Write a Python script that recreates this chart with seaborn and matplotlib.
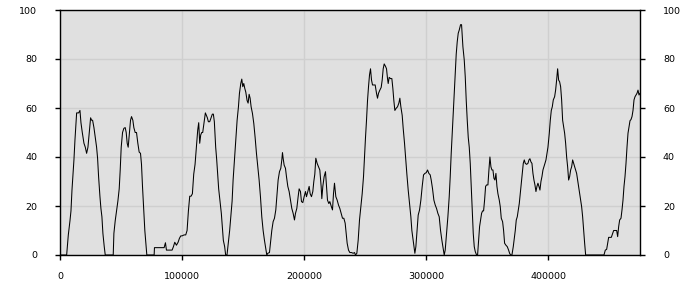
import matplotlib
matplotlib.use("Agg")
import matplotlib.pyplot as plt
import seaborn as sns
import pandas as pd

x_seg1 = [0, 5450, 6810, 8175, 8990, 9810, 10630, 11440, 12260, 13080, 13625, 15260, 16350, 17170,
          18260, 19620, 20710, 21800, 22890, 23980, 25070, 25890, 26700, 27800, 28890, 29975, 30790,
          31610, 32700, 33520, 34335, 35150, 36240, 37060, 43600, 44145, 45235, 46325, 47415, 48500,
          49320, 50140, 51230, 52320, 53410, 54230, 55045, 55860, 56950, 57770, 58590, 59680, 60495,
          61585, 62675, 63765, 64855, 65945, 66760, 67580, 68670, 69490, 70305, 71120, 77120, 77390,
          79025, 85290, 86380, 87200, 89925, 91830, 92920, 94010, 95375, 96740, 97830, 98920, 100000,
          101640, 103000, 104100, 105185, 106275, 107365, 108455, 109545, 110635, 111725, 112815,
          113630, 114450, 115270, 116085, 116900, 117720, 119080, 119900, 120720, 121535, 122625,
          123715, 124800, 125620, 126440, 127530, 128350, 129165, 129980, 131070, 132160, 132980,
          133800, 134890, 135700, 136800, 137885, 138975]
y_seg1 = [0, 0, 8.2, 14, 18, 26.5, 33, 39, 47, 54, 58, 58, 59, 54,
          50, 45.6, 44, 41.5, 44, 50, 56, 55, 55, 52, 48, 44, 39.5,
          32, 24, 19, 15.6, 8.8, 3.4, 0, 0, 8.8, 14, 18, 22, 27,
          34.7, 44, 50, 51.7, 52, 50, 45.6, 44, 50, 55, 56.5, 55, 52,
          50, 50, 45.6, 42, 41.5, 37, 28, 18, 10, 4.8, 0, 0, 3,
          3, 3, 5, 2, 2, 2, 3.4, 5.2, 4, 5.2, 6.8, 7.8, 7.8,
          8.2, 8.2, 10, 18, 24, 24, 25, 33, 37, 44, 51,
          54, 45.6, 49, 50, 50, 53, 58, 57, 56, 54.4, 54.4,
          56, 57.5, 57.5, 54.4, 44, 39, 33, 27, 22, 17, 11.6,
          6, 3.4, 0, 0, 4.8, 10]

x_seg2 = [139900, 140990, 141810, 142900, 143990, 145090, 146180, 147000, 148090, 148910,
          149730, 150550, 151370, 152190, 153280, 154100, 154920, 155740, 156560, 157650,
          158750, 159840, 160930, 162020, 163120, 164210, 165300, 166400, 167490, 168580,
          169400, 170220, 171590, 172410, 173500, 174590, 175690, 176780, 177600, 178690,
          179790, 180880, 181700, 182250, 182790, 183610, 184700, 185520, 186620, 187710,
          188800, 189890, 190990, 192080, 192900, 193990, 195080, 195900, 196990, 197810,
          198910, 200000, 201090, 201910, 203000, 204100, 204920, 206010, 207100, 207920,
          208740, 209560, 210650, 211750, 212840, 213930, 214480, 215300, 216390, 217480,
          218300, 219120, 220220, 221040, 222130, 223220, 224040, 224860, 225960, 227050,
          228140, 229230, 230330, 231420, 232510, 233600, 234420, 235240, 236340, 237430,
          238800, 240160, 241250, 242070, 243170, 244260, 245350, 246450, 247540, 248630,
          249450, 250270, 251090, 251910, 252730, 253550, 254370, 255190, 256010, 257100,
          258190, 259280, 260100, 260920, 262020, 263110, 263930, 264750, 265570, 266660,
          267480, 268300, 268850, 269670, 270760, 271850, 272670, 273490, 274310, 275400,
          276500, 277590, 278410, 279230, 280320, 281140, 282230, 283050, 284150, 285240,
          286330, 287420, 288240, 289060, 289880, 290700, 291520, 292340, 293430, 294530,
          295620, 296710, 297800, 298900, 300000, 301090, 302180, 303270, 304090, 305180,
          306280, 307370, 308460, 309550, 310640, 311740, 312830, 313920, 314740, 315560,
          316650, 317750, 318840, 319660, 320480, 321300, 322120, 322940, 323760, 324580,
          325400, 326220, 327040, 328130, 328950]
y_seg2 = [15.6, 22, 30.6, 38.8, 47, 55, 60.5, 66, 70, 71.8,
          68.7, 70, 68, 66.5, 63, 62, 65.6, 64, 60.5, 57.8,
          53.7, 48, 41.5, 36, 30.6, 23.8, 15.6, 10, 6, 2.7,
          0, 0.7, 1, 4.8, 10, 13.6, 15, 18.4, 23.8, 30.6,
          34, 35.4, 38.8, 41.8, 39.5, 36.7, 35.4, 32, 28, 25.9,
          22.4, 19, 17, 14.3, 17, 19, 23.8, 27, 25.9, 21.8,
          21.4, 23.8, 25.9, 23.8, 25.9, 28, 25, 23.8, 25.9, 30,
          33, 39.5, 37.4, 36, 34.7, 28, 23, 28, 32, 34,
          28, 22.4, 21, 21.8, 20, 18.4, 25, 29.3, 23.8, 22.4,
          20.4, 19, 17, 15, 15, 13, 8.8, 4.8, 2, 1,
          1, 0.7, 1, 0, 0.7, 6, 14.3, 19.7, 25, 32,
          40, 48, 55, 63, 68.7, 73.5, 76, 71.4, 69.4, 69.4,
          69.4, 66, 64, 66, 67.3, 68.4, 71.4, 76, 78, 77,
          76, 72, 70, 72.5, 72, 72, 68, 63, 59, 59.9,
          60.5, 62, 64, 60.5, 57, 51.7, 45.6, 40, 33, 26.5,
          21, 15.6, 10, 6.8, 3.4, 0.7, 3.4, 8.8, 16.3, 18.4,
          22.4, 28, 32.7, 33.3, 33.6, 34.7, 33.3, 32.7, 30.6, 27,
          22.4, 20.4, 19, 17, 15.6, 10, 6, 2.7, 0, 2,
          8.8, 15.6, 23.8, 32, 41.5, 49.7, 57.8, 66, 74, 82,
          87, 90.5, 91.8, 94, 94]

x_seg3 = [330060, 331150, 331970, 332790, 333610, 334430, 335250, 336070, 336890, 337710,
          338530, 339350, 340170, 341260, 342080, 342900, 343720, 344540, 345360, 346180,
          347000, 347820, 348640, 349460, 350550, 351370, 352190, 353010, 353830, 354650,
          355470, 356290, 357110, 357930, 358750, 359840, 360660, 361480, 362570, 363390,
          364210, 365300, 366400, 367490, 368310, 369130, 370220, 371310, 372130, 372950,
          373770, 374590, 375410, 376230, 377050, 377870, 378690, 379510, 380330, 381150,
          382240, 383330, 384150, 384970, 385790, 386610, 387430, 388250, 389070, 389890,
          390710, 391530, 392350, 393170, 393990, 394810, 395630, 396450, 397270, 398090,
          398910, 399730, 400820, 401640, 402460, 403280, 404100, 405190, 406010, 406830,
          407650, 408470, 409290, 410110, 410930, 411750, 412570, 413390, 414210, 415030,
          415850, 416670, 417490, 418310, 419130, 419950, 420770, 421590, 422410, 423220,
          424040, 424860, 425680, 426500, 427320, 428140, 428960, 429780, 430600, 445620,
          446710, 447810, 448630, 449450, 450540, 451630, 452730, 453550, 454910, 456010,
          456830, 457650, 458470, 459560, 460380, 461200, 462020, 462840, 463660, 464480,
          465300, 466120, 466940, 467760, 468580, 469400, 470220, 471040, 471860, 472680,
          473500, 474320, 475130]
y_seg3 = [85, 79.6, 72.8, 63, 55, 48, 44, 37.4, 28, 18.4,
          8.8, 3.4, 1.4, 0, 0, 6, 11.6, 14.3, 17, 18,
          18, 22.4, 28, 28.6, 28.6, 34.7, 40, 36, 34.7, 34.7,
          31.3, 30.6, 33.3, 28, 25, 22.4, 19.7, 15, 13.6, 10,
          4.8, 4, 3.4, 2, 0.7, 0, 0, 3.4, 6.8, 10,
          14.3, 15.6, 18.4, 21, 25, 29.3, 33.3, 37.4, 38.8, 37.4,
          37, 37.4, 38.8, 39.3, 38, 37.4, 33.3, 30.6, 28.6, 25.9,
          28, 29.3, 28, 26.5, 30, 32, 34.7, 36, 37.4, 38.8,
          41.5, 44, 49.7, 55, 59, 60.5, 63.3, 64.6, 67.3, 71.4,
          76, 71.4, 70.7, 68.7, 63.3, 55, 52.4, 49.7, 45.6, 40,
          36, 30.6, 32, 34.7, 36, 38.8, 37.4, 36, 34.7, 33.3,
          30.6, 28, 25, 22.4, 19.7, 15.6, 10, 4.8, 0, 0,
          2, 2.3, 4.8, 7.2, 7.2, 7.2, 8.8, 10, 10, 10,
          7.5, 11.6, 14.3, 15, 18.4, 22.4, 28, 32, 37.4, 44,
          49.7, 52.4, 54.8, 55.3, 56.5, 59, 63.3, 64.6, 65.3, 66,
          67.3, 65.3, 66]

x_ticks = [0, 100000, 200000, 300000, 400000]
y_ticks = [0, 20, 40, 60, 80, 100]

df = pd.DataFrame({"x": x_seg1 + x_seg2 + x_seg3, "y": y_seg1 + y_seg2 + y_seg3})

sns.set_style("white")
plt.rcParams["font.family"] = ["DejaVu Sans"]

fig = plt.figure(figsize=(7, 3), dpi=100)
ax = fig.add_axes([60 / 700, 45 / 300, 580 / 700, 245 / 300])
ax.set_facecolor("#e0e0e0")

sns.lineplot(data=df, x="x", y="y", color="black", linewidth=0.75,
             estimator=None, sort=False, ax=ax)

ax.set_xlim(0, df["x"].max())
ax.set_ylim(0, 100)
ax.set_xticks(x_ticks)
ax.set_xticklabels([str(t) for t in x_ticks])
ax.set_yticks(y_ticks)
ax.set_yticklabels([str(t) for t in y_ticks])
ax.grid(True, color="#cfcfcf", linewidth=1.0)
ax.set_axisbelow(True)
for s in ax.spines.values():
    s.set_color("black")
    s.set_linewidth(1.0)
    s.set_visible(True)
ax.tick_params(axis="y", left=True, right=True, labelleft=True, labelright=True,
               direction="out", length=3.5, width=1, color="black",
               labelsize=6.8, labelcolor="black", pad=13)
ax.tick_params(axis="x", bottom=True, direction="out", length=3.5, width=1,
               color="black", labelsize=6.8, labelcolor="black", pad=9)
ax.set_xlabel("")
ax.set_ylabel("")

fig.savefig("out.png", dpi=100)
